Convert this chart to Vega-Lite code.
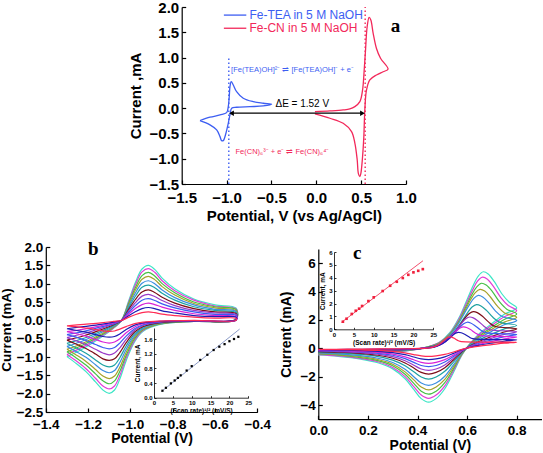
{
"$schema": "https://vega.github.io/schema/vega-lite/v6.json",
"width": 543, "height": 453, "padding": 0, "autosize": {"type": "none"},
"background": "white",
"config": {"view": {"stroke": null}, "axis": {"grid": false, "domainColor": "#000", "tickColor": "#000", "labelColor": "#000", "titleColor": "#000", "labelFont": "Liberation Sans", "titleFont": "Liberation Sans", "labelFontWeight": "bold", "titleFontWeight": "bold", "domainWidth": 1.2, "tickWidth": 1.2, "labelFlush": false, "labelOverlap": false}},
"datasets": {
"a": [
{"s":"TEA","x":-1.296,"y":-0.247},{"s":"TEA","x":-1.185,"y":-0.18},{"s":"TEA","x":-1.073,"y":-0.134},{"s":"TEA","x":-0.999,"y":-0.089},{"s":"TEA","x":-0.981,"y":0.03},{"s":"TEA","x":-0.97,"y":0.227},{"s":"TEA","x":-0.962,"y":0.425},{"s":"TEA","x":-0.948,"y":0.524},{"s":"TEA","x":-0.925,"y":0.458},{"s":"TEA","x":-0.888,"y":0.326},{"s":"TEA","x":-0.814,"y":0.196},{"s":"TEA","x":-0.703,"y":0.128},{"s":"TEA","x":-0.591,"y":0.097},{"s":"TEA","x":-0.498,"y":0.077},{"s":"TEA","x":-0.591,"y":0.043},{"s":"TEA","x":-0.739,"y":0.03},{"s":"TEA","x":-0.888,"y":0.018},{"s":"TEA","x":-0.943,"y":-0.002},{"s":"TEA","x":-0.962,"y":-0.134},{"s":"TEA","x":-0.981,"y":-0.3},{"s":"TEA","x":-1.007,"y":-0.496},{"s":"TEA","x":-1.037,"y":-0.642},{"s":"TEA","x":-1.055,"y":-0.642},{"s":"TEA","x":-1.073,"y":-0.563},{"s":"TEA","x":-1.11,"y":-0.43},{"s":"TEA","x":-1.185,"y":-0.33},{"s":"TEA","x":-1.296,"y":-0.247},
{"s":"CN","x":-0.015,"y":-0.07},{"s":"CN","x":0.152,"y":-0.055},{"s":"CN","x":0.3,"y":-0.036},{"s":"CN","x":0.374,"y":-0.016},{"s":"CN","x":0.43,"y":0.03},{"s":"CN","x":0.486,"y":0.128},{"s":"CN","x":0.516,"y":0.36},{"s":"CN","x":0.534,"y":0.755},{"s":"CN","x":0.549,"y":1.15},{"s":"CN","x":0.567,"y":1.61},{"s":"CN","x":0.589,"y":1.796},{"s":"CN","x":0.608,"y":1.743},{"s":"CN","x":0.634,"y":1.48},{"s":"CN","x":0.671,"y":1.18},{"s":"CN","x":0.716,"y":0.986},{"s":"CN","x":0.8,"y":0.77},{"s":"CN","x":0.745,"y":0.72},{"s":"CN","x":0.671,"y":0.656},{"s":"CN","x":0.597,"y":0.557},{"s":"CN","x":0.56,"y":0.36},{"s":"CN","x":0.541,"y":-0.036},{"s":"CN","x":0.53,"y":-0.563},{"s":"CN","x":0.516,"y":-0.958},{"s":"CN","x":0.497,"y":-1.29},{"s":"CN","x":0.486,"y":-1.354},{"s":"CN","x":0.47,"y":-1.3},{"s":"CN","x":0.456,"y":-1.02},{"s":"CN","x":0.43,"y":-0.69},{"s":"CN","x":0.393,"y":-0.464},{"s":"CN","x":0.3,"y":-0.3},{"s":"CN","x":0.152,"y":-0.2},{"s":"CN","x":-0.015,"y":-0.115}
],
"aDot": [{"s":"TEA","x":-0.975,"y":-1.5,"y2":1.0},{"s":"CN","x":0.545,"y":-1.5,"y2":2.0}],
"aHz": [{"s":"TEA","x":-1.03,"x2":-0.78,"y":1.84},{"s":"CN","x":-1.03,"x2":-0.78,"y":1.58},{"s":"K","x":-0.95,"x2":0.52,"y":-0.1}],
"aArr": [{"d":"L","x":-0.945,"y":-0.1},{"d":"R","x":0.515,"y":-0.1}],
"aTxt": [
{"g":"leg","s":"TEA","x":-0.745,"y":1.84,"t":"Fe-TEA in 5 M NaOH"},
{"g":"leg","s":"CN","x":-0.745,"y":1.58,"t":"Fe-CN in 5 M NaOH"},
{"g":"rx","s":"TEA","x":-0.95,"y":0.76,"t":"[Fe(TEA)OH]²⁻ ⇌ [Fe(TEA)OH]⁻ + e⁻"},
{"g":"rx","s":"CN","x":-0.9,"y":-0.86,"t":"Fe(CN)₆³⁻ + e⁻ ⇌ Fe(CN)₆⁴⁻"},
{"g":"de","s":"K","x":-0.455,"y":0.08,"t":"ΔE = 1.52 V"},
{"g":"lab","s":"K","x":0.883,"y":1.62,"t":"a"}
],
"b": [
{"k":1,"x":-1.3,"y":-0.99},{"k":1,"x":-1.22,"y":-0.76},{"k":1,"x":-1.14,"y":-0.47},{"k":1,"x":-1.08,"y":-0.22},{"k":1,"x":-1.04,"y":0.02},{"k":1,"x":-1.01,"y":0.5},{"k":1,"x":-0.975,"y":1.05},{"k":1,"x":-0.945,"y":1.4},{"k":1,"x":-0.915,"y":1.5},{"k":1,"x":-0.885,"y":1.39},{"k":1,"x":-0.85,"y":1.15},{"k":1,"x":-0.79,"y":0.86},{"k":1,"x":-0.7,"y":0.58},{"k":1,"x":-0.6,"y":0.42},{"k":1,"x":-0.5,"y":0.33},
{"k":1,"x":-0.5,"y":0.03},{"k":1,"x":-0.7,"y":-0.03},{"k":1,"x":-0.86,"y":-0.11},{"k":1,"x":-0.94,"y":-0.3},{"k":1,"x":-0.98,"y":-0.58},{"k":1,"x":-1.02,"y":-1.1},{"k":1,"x":-1.05,"y":-1.6},{"k":1,"x":-1.075,"y":-1.9},{"k":1,"x":-1.1,"y":-1.99},{"k":1,"x":-1.13,"y":-1.9},{"k":1,"x":-1.165,"y":-1.68},{"k":1,"x":-1.21,"y":-1.4},{"k":1,"x":-1.26,"y":-1.16},{"k":1,"x":-1.3,"y":-0.99},
{"k":2,"x":-1.3,"y":-0.93},{"k":2,"x":-1.22,"y":-0.71},{"k":2,"x":-1.14,"y":-0.44},{"k":2,"x":-1.08,"y":-0.21},{"k":2,"x":-1.04,"y":0.02},{"k":2,"x":-1.01,"y":0.47},{"k":2,"x":-0.975,"y":0.99},{"k":2,"x":-0.945,"y":1.32},{"k":2,"x":-0.915,"y":1.41},{"k":2,"x":-0.885,"y":1.31},{"k":2,"x":-0.85,"y":1.08},{"k":2,"x":-0.79,"y":0.81},{"k":2,"x":-0.7,"y":0.55},{"k":2,"x":-0.6,"y":0.39},{"k":2,"x":-0.5,"y":0.31},
{"k":2,"x":-0.5,"y":0.03},{"k":2,"x":-0.7,"y":-0.03},{"k":2,"x":-0.86,"y":-0.1},{"k":2,"x":-0.94,"y":-0.28},{"k":2,"x":-0.98,"y":-0.55},{"k":2,"x":-1.02,"y":-1.03},{"k":2,"x":-1.05,"y":-1.5},{"k":2,"x":-1.075,"y":-1.79},{"k":2,"x":-1.1,"y":-1.87},{"k":2,"x":-1.13,"y":-1.79},{"k":2,"x":-1.165,"y":-1.58},{"k":2,"x":-1.21,"y":-1.32},{"k":2,"x":-1.26,"y":-1.09},{"k":2,"x":-1.3,"y":-0.93},
{"k":3,"x":-1.3,"y":-0.86},{"k":3,"x":-1.22,"y":-0.66},{"k":3,"x":-1.14,"y":-0.41},{"k":3,"x":-1.08,"y":-0.19},{"k":3,"x":-1.04,"y":0.02},{"k":3,"x":-1.01,"y":0.44},{"k":3,"x":-0.975,"y":0.91},{"k":3,"x":-0.945,"y":1.22},{"k":3,"x":-0.915,"y":1.31},{"k":3,"x":-0.885,"y":1.21},{"k":3,"x":-0.85,"y":1.0},{"k":3,"x":-0.79,"y":0.75},{"k":3,"x":-0.7,"y":0.5},{"k":3,"x":-0.6,"y":0.37},{"k":3,"x":-0.5,"y":0.29},
{"k":3,"x":-0.5,"y":0.03},{"k":3,"x":-0.7,"y":-0.03},{"k":3,"x":-0.86,"y":-0.1},{"k":3,"x":-0.94,"y":-0.26},{"k":3,"x":-0.98,"y":-0.5},{"k":3,"x":-1.02,"y":-0.96},{"k":3,"x":-1.05,"y":-1.39},{"k":3,"x":-1.075,"y":-1.65},{"k":3,"x":-1.1,"y":-1.73},{"k":3,"x":-1.13,"y":-1.65},{"k":3,"x":-1.165,"y":-1.46},{"k":3,"x":-1.21,"y":-1.22},{"k":3,"x":-1.26,"y":-1.01},{"k":3,"x":-1.3,"y":-0.86},
{"k":4,"x":-1.3,"y":-0.79},{"k":4,"x":-1.22,"y":-0.61},{"k":4,"x":-1.14,"y":-0.38},{"k":4,"x":-1.08,"y":-0.18},{"k":4,"x":-1.04,"y":0.02},{"k":4,"x":-1.01,"y":0.4},{"k":4,"x":-0.975,"y":0.84},{"k":4,"x":-0.945,"y":1.12},{"k":4,"x":-0.915,"y":1.2},{"k":4,"x":-0.885,"y":1.11},{"k":4,"x":-0.85,"y":0.92},{"k":4,"x":-0.79,"y":0.69},{"k":4,"x":-0.7,"y":0.46},{"k":4,"x":-0.6,"y":0.34},{"k":4,"x":-0.5,"y":0.26},
{"k":4,"x":-0.5,"y":0.02},{"k":4,"x":-0.7,"y":-0.02},{"k":4,"x":-0.86,"y":-0.09},{"k":4,"x":-0.94,"y":-0.24},{"k":4,"x":-0.98,"y":-0.46},{"k":4,"x":-1.02,"y":-0.88},{"k":4,"x":-1.05,"y":-1.28},{"k":4,"x":-1.075,"y":-1.52},{"k":4,"x":-1.1,"y":-1.59},{"k":4,"x":-1.13,"y":-1.52},{"k":4,"x":-1.165,"y":-1.34},{"k":4,"x":-1.21,"y":-1.12},{"k":4,"x":-1.26,"y":-0.93},{"k":4,"x":-1.3,"y":-0.79},
{"k":5,"x":-1.3,"y":-0.71},{"k":5,"x":-1.22,"y":-0.55},{"k":5,"x":-1.14,"y":-0.34},{"k":5,"x":-1.08,"y":-0.16},{"k":5,"x":-1.04,"y":0.01},{"k":5,"x":-1.01,"y":0.36},{"k":5,"x":-0.975,"y":0.76},{"k":5,"x":-0.945,"y":1.01},{"k":5,"x":-0.915,"y":1.08},{"k":5,"x":-0.885,"y":1.0},{"k":5,"x":-0.85,"y":0.83},{"k":5,"x":-0.79,"y":0.62},{"k":5,"x":-0.7,"y":0.42},{"k":5,"x":-0.6,"y":0.3},{"k":5,"x":-0.5,"y":0.24},
{"k":5,"x":-0.5,"y":0.02},{"k":5,"x":-0.7,"y":-0.02},{"k":5,"x":-0.86,"y":-0.08},{"k":5,"x":-0.94,"y":-0.22},{"k":5,"x":-0.98,"y":-0.42},{"k":5,"x":-1.02,"y":-0.79},{"k":5,"x":-1.05,"y":-1.15},{"k":5,"x":-1.075,"y":-1.37},{"k":5,"x":-1.1,"y":-1.43},{"k":5,"x":-1.13,"y":-1.37},{"k":5,"x":-1.165,"y":-1.21},{"k":5,"x":-1.21,"y":-1.01},{"k":5,"x":-1.26,"y":-0.84},{"k":5,"x":-1.3,"y":-0.71},
{"k":6,"x":-1.3,"y":-0.63},{"k":6,"x":-1.22,"y":-0.49},{"k":6,"x":-1.14,"y":-0.3},{"k":6,"x":-1.08,"y":-0.14},{"k":6,"x":-1.04,"y":0.01},{"k":6,"x":-1.01,"y":0.32},{"k":6,"x":-0.975,"y":0.67},{"k":6,"x":-0.945,"y":0.9},{"k":6,"x":-0.915,"y":0.96},{"k":6,"x":-0.885,"y":0.89},{"k":6,"x":-0.85,"y":0.74},{"k":6,"x":-0.79,"y":0.55},{"k":6,"x":-0.7,"y":0.37},{"k":6,"x":-0.6,"y":0.27},{"k":6,"x":-0.5,"y":0.21},
{"k":6,"x":-0.5,"y":0.02},{"k":6,"x":-0.7,"y":-0.02},{"k":6,"x":-0.86,"y":-0.07},{"k":6,"x":-0.94,"y":-0.19},{"k":6,"x":-0.98,"y":-0.37},{"k":6,"x":-1.02,"y":-0.7},{"k":6,"x":-1.05,"y":-1.02},{"k":6,"x":-1.075,"y":-1.22},{"k":6,"x":-1.1,"y":-1.27},{"k":6,"x":-1.13,"y":-1.22},{"k":6,"x":-1.165,"y":-1.08},{"k":6,"x":-1.21,"y":-0.9},{"k":6,"x":-1.26,"y":-0.74},{"k":6,"x":-1.3,"y":-0.63},
{"k":7,"x":-1.3,"y":-0.54},{"k":7,"x":-1.22,"y":-0.42},{"k":7,"x":-1.14,"y":-0.26},{"k":7,"x":-1.08,"y":-0.12},{"k":7,"x":-1.04,"y":0.01},{"k":7,"x":-1.01,"y":0.28},{"k":7,"x":-0.975,"y":0.58},{"k":7,"x":-0.945,"y":0.77},{"k":7,"x":-0.915,"y":0.83},{"k":7,"x":-0.885,"y":0.76},{"k":7,"x":-0.85,"y":0.63},{"k":7,"x":-0.79,"y":0.47},{"k":7,"x":-0.7,"y":0.32},{"k":7,"x":-0.6,"y":0.23},{"k":7,"x":-0.5,"y":0.18},
{"k":7,"x":-0.5,"y":0.02},{"k":7,"x":-0.7,"y":-0.02},{"k":7,"x":-0.86,"y":-0.06},{"k":7,"x":-0.94,"y":-0.17},{"k":7,"x":-0.98,"y":-0.32},{"k":7,"x":-1.02,"y":-0.61},{"k":7,"x":-1.05,"y":-0.88},{"k":7,"x":-1.075,"y":-1.05},{"k":7,"x":-1.1,"y":-1.09},{"k":7,"x":-1.13,"y":-1.05},{"k":7,"x":-1.165,"y":-0.92},{"k":7,"x":-1.21,"y":-0.77},{"k":7,"x":-1.26,"y":-0.64},{"k":7,"x":-1.3,"y":-0.54},
{"k":8,"x":-1.3,"y":-0.47},{"k":8,"x":-1.22,"y":-0.36},{"k":8,"x":-1.14,"y":-0.22},{"k":8,"x":-1.08,"y":-0.1},{"k":8,"x":-1.04,"y":0.01},{"k":8,"x":-1.01,"y":0.24},{"k":8,"x":-0.975,"y":0.49},{"k":8,"x":-0.945,"y":0.66},{"k":8,"x":-0.915,"y":0.71},{"k":8,"x":-0.885,"y":0.65},{"k":8,"x":-0.85,"y":0.54},{"k":8,"x":-0.79,"y":0.4},{"k":8,"x":-0.7,"y":0.27},{"k":8,"x":-0.6,"y":0.2},{"k":8,"x":-0.5,"y":0.16},
{"k":8,"x":-0.5,"y":0.01},{"k":8,"x":-0.7,"y":-0.01},{"k":8,"x":-0.86,"y":-0.05},{"k":8,"x":-0.94,"y":-0.14},{"k":8,"x":-0.98,"y":-0.27},{"k":8,"x":-1.02,"y":-0.52},{"k":8,"x":-1.05,"y":-0.75},{"k":8,"x":-1.075,"y":-0.89},{"k":8,"x":-1.1,"y":-0.94},{"k":8,"x":-1.13,"y":-0.89},{"k":8,"x":-1.165,"y":-0.79},{"k":8,"x":-1.21,"y":-0.66},{"k":8,"x":-1.26,"y":-0.55},{"k":8,"x":-1.3,"y":-0.47},
{"k":9,"x":-1.3,"y":-0.39},{"k":9,"x":-1.22,"y":-0.3},{"k":9,"x":-1.14,"y":-0.18},{"k":9,"x":-1.08,"y":-0.09},{"k":9,"x":-1.04,"y":0.01},{"k":9,"x":-1.01,"y":0.2},{"k":9,"x":-0.975,"y":0.41},{"k":9,"x":-0.945,"y":0.55},{"k":9,"x":-0.915,"y":0.59},{"k":9,"x":-0.885,"y":0.54},{"k":9,"x":-0.85,"y":0.45},{"k":9,"x":-0.79,"y":0.34},{"k":9,"x":-0.7,"y":0.23},{"k":9,"x":-0.6,"y":0.16},{"k":9,"x":-0.5,"y":0.13},
{"k":9,"x":-0.5,"y":0.01},{"k":9,"x":-0.7,"y":-0.01},{"k":9,"x":-0.86,"y":-0.04},{"k":9,"x":-0.94,"y":-0.12},{"k":9,"x":-0.98,"y":-0.23},{"k":9,"x":-1.02,"y":-0.43},{"k":9,"x":-1.05,"y":-0.62},{"k":9,"x":-1.075,"y":-0.74},{"k":9,"x":-1.1,"y":-0.78},{"k":9,"x":-1.13,"y":-0.74},{"k":9,"x":-1.165,"y":-0.66},{"k":9,"x":-1.21,"y":-0.55},{"k":9,"x":-1.26,"y":-0.45},{"k":9,"x":-1.3,"y":-0.39},
{"k":10,"x":-1.3,"y":-0.31},{"k":10,"x":-1.22,"y":-0.24},{"k":10,"x":-1.14,"y":-0.15},{"k":10,"x":-1.08,"y":-0.07},{"k":10,"x":-1.04,"y":0.01},{"k":10,"x":-1.01,"y":0.16},{"k":10,"x":-0.975,"y":0.33},{"k":10,"x":-0.945,"y":0.43},{"k":10,"x":-0.915,"y":0.47},{"k":10,"x":-0.885,"y":0.43},{"k":10,"x":-0.85,"y":0.36},{"k":10,"x":-0.79,"y":0.27},{"k":10,"x":-0.7,"y":0.18},{"k":10,"x":-0.6,"y":0.13},{"k":10,"x":-0.5,"y":0.1},
{"k":10,"x":-0.5,"y":0.01},{"k":10,"x":-0.7,"y":-0.01},{"k":10,"x":-0.86,"y":-0.03},{"k":10,"x":-0.94,"y":-0.09},{"k":10,"x":-0.98,"y":-0.18},{"k":10,"x":-1.02,"y":-0.34},{"k":10,"x":-1.05,"y":-0.5},{"k":10,"x":-1.075,"y":-0.59},{"k":10,"x":-1.1,"y":-0.62},{"k":10,"x":-1.13,"y":-0.59},{"k":10,"x":-1.165,"y":-0.52},{"k":10,"x":-1.21,"y":-0.43},{"k":10,"x":-1.26,"y":-0.36},{"k":10,"x":-1.3,"y":-0.31},
{"k":11,"x":-1.3,"y":-0.23},{"k":11,"x":-1.22,"y":-0.17},{"k":11,"x":-1.14,"y":-0.11},{"k":11,"x":-1.08,"y":-0.05},{"k":11,"x":-1.04,"y":0},{"k":11,"x":-1.01,"y":0.12},{"k":11,"x":-0.975,"y":0.24},{"k":11,"x":-0.945,"y":0.32},{"k":11,"x":-0.915,"y":0.35},{"k":11,"x":-0.885,"y":0.32},{"k":11,"x":-0.85,"y":0.26},{"k":11,"x":-0.79,"y":0.2},{"k":11,"x":-0.7,"y":0.13},{"k":11,"x":-0.6,"y":0.1},{"k":11,"x":-0.5,"y":0.08},
{"k":11,"x":-0.5,"y":0.01},{"k":11,"x":-0.7,"y":-0.01},{"k":11,"x":-0.86,"y":-0.03},{"k":11,"x":-0.94,"y":-0.07},{"k":11,"x":-0.98,"y":-0.13},{"k":11,"x":-1.02,"y":-0.25},{"k":11,"x":-1.05,"y":-0.37},{"k":11,"x":-1.075,"y":-0.44},{"k":11,"x":-1.1,"y":-0.46},{"k":11,"x":-1.13,"y":-0.44},{"k":11,"x":-1.165,"y":-0.39},{"k":11,"x":-1.21,"y":-0.32},{"k":11,"x":-1.26,"y":-0.27},{"k":11,"x":-1.3,"y":-0.23},
{"k":12,"x":-1.3,"y":-0.15},{"k":12,"x":-1.22,"y":-0.11},{"k":12,"x":-1.14,"y":-0.07},{"k":12,"x":-1.08,"y":-0.03},{"k":12,"x":-1.04,"y":0},{"k":12,"x":-1.01,"y":0.08},{"k":12,"x":-0.975,"y":0.16},{"k":12,"x":-0.945,"y":0.21},{"k":12,"x":-0.915,"y":0.23},{"k":12,"x":-0.885,"y":0.21},{"k":12,"x":-0.85,"y":0.17},{"k":12,"x":-0.79,"y":0.13},{"k":12,"x":-0.7,"y":0.09},{"k":12,"x":-0.6,"y":0.06},{"k":12,"x":-0.5,"y":0.05},
{"k":12,"x":-0.5,"y":0},{"k":12,"x":-0.7,"y":0},{"k":12,"x":-0.86,"y":-0.02},{"k":12,"x":-0.94,"y":-0.05},{"k":12,"x":-0.98,"y":-0.09},{"k":12,"x":-1.02,"y":-0.17},{"k":12,"x":-1.05,"y":-0.24},{"k":12,"x":-1.075,"y":-0.29},{"k":12,"x":-1.1,"y":-0.3},{"k":12,"x":-1.13,"y":-0.29},{"k":12,"x":-1.165,"y":-0.25},{"k":12,"x":-1.21,"y":-0.21},{"k":12,"x":-1.26,"y":-0.17},{"k":12,"x":-1.3,"y":-0.15}
],
"bTxt": [{"x":-1.175,"y":1.95,"t":"b"}],
"bi": [{"x":2.24,"y":0.19},{"x":3.16,"y":0.27},{"x":4.47,"y":0.39},{"x":5.48,"y":0.47},{"x":6.32,"y":0.54},{"x":7.07,"y":0.61},{"x":8.66,"y":0.74},{"x":10,"y":0.86},{"x":12.25,"y":1.03},{"x":14.14,"y":1.17},{"x":15.81,"y":1.3},{"x":17.32,"y":1.39},{"x":18.71,"y":1.46},{"x":20,"y":1.54},{"x":21.21,"y":1.6},{"x":22.36,"y":1.66}],
"biL": [{"x":2,"y":0.17,"x2":22.7,"y2":1.87}],
"c": [
{"k":1,"x":0,"y":-0.47},{"k":1,"x":0.12,"y":-0.37},{"k":1,"x":0.25,"y":-0.29},{"k":1,"x":0.36,"y":-0.17},{"k":1,"x":0.44,"y":0.1},{"k":1,"x":0.49,"y":0.45},{"k":1,"x":0.53,"y":1.1},{"k":1,"x":0.57,"y":2.25},{"k":1,"x":0.6,"y":3.45},{"k":1,"x":0.625,"y":4.45},{"k":1,"x":0.645,"y":5.1},{"k":1,"x":0.665,"y":5.4},{"k":1,"x":0.685,"y":5.25},{"k":1,"x":0.71,"y":4.7},{"k":1,"x":0.74,"y":3.85},{"k":1,"x":0.77,"y":3.25},{"k":1,"x":0.8,"y":2.85},{"k":1,"x":0.75,"y":2.4},{"k":1,"x":0.7,"y":1.75},{"k":1,"x":0.65,"y":1.05},{"k":1,"x":0.61,"y":0.3},{"k":1,"x":0.58,"y":-0.45},{"k":1,"x":0.545,"y":-1.7},{"k":1,"x":0.51,"y":-2.85},{"k":1,"x":0.475,"y":-3.55},{"k":1,"x":0.445,"y":-3.8},{"k":1,"x":0.415,"y":-3.55},{"k":1,"x":0.385,"y":-2.9},{"k":1,"x":0.35,"y":-2.15},{"k":1,"x":0.3,"y":-1.45},{"k":1,"x":0.24,"y":-1.02},{"k":1,"x":0.17,"y":-0.76},{"k":1,"x":0.08,"y":-0.57},{"k":1,"x":0,"y":-0.47},
{"k":2,"x":0,"y":-0.44},{"k":2,"x":0.12,"y":-0.34},{"k":2,"x":0.25,"y":-0.27},{"k":2,"x":0.36,"y":-0.16},{"k":2,"x":0.44,"y":0.09},{"k":2,"x":0.489,"y":0.42},{"k":2,"x":0.529,"y":1.02},{"k":2,"x":0.568,"y":2.09},{"k":2,"x":0.598,"y":3.21},{"k":2,"x":0.623,"y":4.14},{"k":2,"x":0.642,"y":4.74},{"k":2,"x":0.662,"y":5.02},{"k":2,"x":0.682,"y":4.88},{"k":2,"x":0.706,"y":4.37},{"k":2,"x":0.736,"y":3.58},{"k":2,"x":0.766,"y":3.02},{"k":2,"x":0.8,"y":2.65},{"k":2,"x":0.75,"y":2.23},{"k":2,"x":0.7,"y":1.63},{"k":2,"x":0.65,"y":0.98},{"k":2,"x":0.61,"y":0.28},{"k":2,"x":0.58,"y":-0.42},{"k":2,"x":0.545,"y":-1.58},{"k":2,"x":0.51,"y":-2.65},{"k":2,"x":0.475,"y":-3.3},{"k":2,"x":0.445,"y":-3.53},{"k":2,"x":0.415,"y":-3.3},{"k":2,"x":0.385,"y":-2.7},{"k":2,"x":0.35,"y":-2.0},{"k":2,"x":0.3,"y":-1.35},{"k":2,"x":0.24,"y":-0.95},{"k":2,"x":0.17,"y":-0.71},{"k":2,"x":0.08,"y":-0.53},{"k":2,"x":0,"y":-0.44},
{"k":3,"x":0,"y":-0.4},{"k":3,"x":0.12,"y":-0.31},{"k":3,"x":0.25,"y":-0.25},{"k":3,"x":0.36,"y":-0.14},{"k":3,"x":0.44,"y":0.09},{"k":3,"x":0.488,"y":0.38},{"k":3,"x":0.527,"y":0.94},{"k":3,"x":0.566,"y":1.91},{"k":3,"x":0.595,"y":2.93},{"k":3,"x":0.619,"y":3.78},{"k":3,"x":0.639,"y":4.34},{"k":3,"x":0.658,"y":4.59},{"k":3,"x":0.677,"y":4.46},{"k":3,"x":0.702,"y":4.0},{"k":3,"x":0.731,"y":3.27},{"k":3,"x":0.76,"y":2.76},{"k":3,"x":0.8,"y":2.42},{"k":3,"x":0.75,"y":2.04},{"k":3,"x":0.7,"y":1.49},{"k":3,"x":0.65,"y":0.89},{"k":3,"x":0.61,"y":0.26},{"k":3,"x":0.58,"y":-0.38},{"k":3,"x":0.545,"y":-1.45},{"k":3,"x":0.51,"y":-2.42},{"k":3,"x":0.475,"y":-3.02},{"k":3,"x":0.445,"y":-3.23},{"k":3,"x":0.415,"y":-3.02},{"k":3,"x":0.385,"y":-2.47},{"k":3,"x":0.35,"y":-1.83},{"k":3,"x":0.3,"y":-1.23},{"k":3,"x":0.24,"y":-0.87},{"k":3,"x":0.17,"y":-0.65},{"k":3,"x":0.08,"y":-0.48},{"k":3,"x":0,"y":-0.4},
{"k":4,"x":0,"y":-0.36},{"k":4,"x":0.12,"y":-0.28},{"k":4,"x":0.25,"y":-0.22},{"k":4,"x":0.36,"y":-0.13},{"k":4,"x":0.44,"y":0.08},{"k":4,"x":0.487,"y":0.35},{"k":4,"x":0.525,"y":0.85},{"k":4,"x":0.563,"y":1.73},{"k":4,"x":0.591,"y":2.66},{"k":4,"x":0.614,"y":3.43},{"k":4,"x":0.633,"y":3.93},{"k":4,"x":0.652,"y":4.16},{"k":4,"x":0.671,"y":4.04},{"k":4,"x":0.694,"y":3.62},{"k":4,"x":0.723,"y":2.96},{"k":4,"x":0.751,"y":2.5},{"k":4,"x":0.8,"y":2.19},{"k":4,"x":0.75,"y":1.85},{"k":4,"x":0.7,"y":1.35},{"k":4,"x":0.65,"y":0.81},{"k":4,"x":0.61,"y":0.23},{"k":4,"x":0.58,"y":-0.35},{"k":4,"x":0.545,"y":-1.31},{"k":4,"x":0.51,"y":-2.19},{"k":4,"x":0.475,"y":-2.73},{"k":4,"x":0.445,"y":-2.93},{"k":4,"x":0.415,"y":-2.73},{"k":4,"x":0.385,"y":-2.23},{"k":4,"x":0.35,"y":-1.66},{"k":4,"x":0.3,"y":-1.12},{"k":4,"x":0.24,"y":-0.79},{"k":4,"x":0.17,"y":-0.59},{"k":4,"x":0.08,"y":-0.44},{"k":4,"x":0,"y":-0.36},
{"k":5,"x":0,"y":-0.32},{"k":5,"x":0.12,"y":-0.26},{"k":5,"x":0.25,"y":-0.2},{"k":5,"x":0.36,"y":-0.12},{"k":5,"x":0.44,"y":0.07},{"k":5,"x":0.486,"y":0.31},{"k":5,"x":0.522,"y":0.76},{"k":5,"x":0.558,"y":1.55},{"k":5,"x":0.586,"y":2.38},{"k":5,"x":0.609,"y":3.07},{"k":5,"x":0.627,"y":3.52},{"k":5,"x":0.645,"y":3.73},{"k":5,"x":0.663,"y":3.62},{"k":5,"x":0.686,"y":3.24},{"k":5,"x":0.713,"y":2.66},{"k":5,"x":0.741,"y":2.24},{"k":5,"x":0.8,"y":1.97},{"k":5,"x":0.75,"y":1.66},{"k":5,"x":0.7,"y":1.21},{"k":5,"x":0.65,"y":0.72},{"k":5,"x":0.61,"y":0.21},{"k":5,"x":0.58,"y":-0.31},{"k":5,"x":0.545,"y":-1.17},{"k":5,"x":0.51,"y":-1.97},{"k":5,"x":0.475,"y":-2.45},{"k":5,"x":0.445,"y":-2.62},{"k":5,"x":0.415,"y":-2.45},{"k":5,"x":0.385,"y":-2.0},{"k":5,"x":0.35,"y":-1.48},{"k":5,"x":0.3,"y":-1.0},{"k":5,"x":0.24,"y":-0.7},{"k":5,"x":0.17,"y":-0.52},{"k":5,"x":0.08,"y":-0.39},{"k":5,"x":0,"y":-0.32},
{"k":6,"x":0,"y":-0.27},{"k":6,"x":0.12,"y":-0.21},{"k":6,"x":0.25,"y":-0.17},{"k":6,"x":0.36,"y":-0.1},{"k":6,"x":0.44,"y":0.06},{"k":6,"x":0.484,"y":0.26},{"k":6,"x":0.519,"y":0.63},{"k":6,"x":0.554,"y":1.28},{"k":6,"x":0.581,"y":1.97},{"k":6,"x":0.603,"y":2.54},{"k":6,"x":0.62,"y":2.91},{"k":6,"x":0.638,"y":3.08},{"k":6,"x":0.656,"y":2.99},{"k":6,"x":0.678,"y":2.68},{"k":6,"x":0.704,"y":2.19},{"k":6,"x":0.73,"y":1.85},{"k":6,"x":0.8,"y":1.62},{"k":6,"x":0.75,"y":1.37},{"k":6,"x":0.7,"y":1.0},{"k":6,"x":0.65,"y":0.6},{"k":6,"x":0.61,"y":0.17},{"k":6,"x":0.58,"y":-0.26},{"k":6,"x":0.545,"y":-0.97},{"k":6,"x":0.51,"y":-1.62},{"k":6,"x":0.475,"y":-2.02},{"k":6,"x":0.445,"y":-2.17},{"k":6,"x":0.415,"y":-2.02},{"k":6,"x":0.385,"y":-1.65},{"k":6,"x":0.35,"y":-1.23},{"k":6,"x":0.3,"y":-0.83},{"k":6,"x":0.24,"y":-0.58},{"k":6,"x":0.17,"y":-0.43},{"k":6,"x":0.08,"y":-0.32},{"k":6,"x":0,"y":-0.27},
{"k":7,"x":0,"y":-0.23},{"k":7,"x":0.12,"y":-0.18},{"k":7,"x":0.25,"y":-0.14},{"k":7,"x":0.36,"y":-0.08},{"k":7,"x":0.44,"y":0.05},{"k":7,"x":0.481,"y":0.22},{"k":7,"x":0.514,"y":0.53},{"k":7,"x":0.547,"y":1.08},{"k":7,"x":0.572,"y":1.66},{"k":7,"x":0.592,"y":2.14},{"k":7,"x":0.609,"y":2.45},{"k":7,"x":0.625,"y":2.59},{"k":7,"x":0.641,"y":2.52},{"k":7,"x":0.662,"y":2.26},{"k":7,"x":0.687,"y":1.85},{"k":7,"x":0.711,"y":1.56},{"k":7,"x":0.8,"y":1.37},{"k":7,"x":0.75,"y":1.15},{"k":7,"x":0.7,"y":0.84},{"k":7,"x":0.65,"y":0.5},{"k":7,"x":0.61,"y":0.14},{"k":7,"x":0.58,"y":-0.22},{"k":7,"x":0.545,"y":-0.82},{"k":7,"x":0.51,"y":-1.37},{"k":7,"x":0.475,"y":-1.7},{"k":7,"x":0.445,"y":-1.82},{"k":7,"x":0.415,"y":-1.7},{"k":7,"x":0.385,"y":-1.39},{"k":7,"x":0.35,"y":-1.03},{"k":7,"x":0.3,"y":-0.7},{"k":7,"x":0.24,"y":-0.49},{"k":7,"x":0.17,"y":-0.36},{"k":7,"x":0.08,"y":-0.27},{"k":7,"x":0,"y":-0.23},
{"k":8,"x":0,"y":-0.19},{"k":8,"x":0.12,"y":-0.15},{"k":8,"x":0.25,"y":-0.12},{"k":8,"x":0.36,"y":-0.07},{"k":8,"x":0.44,"y":0.04},{"k":8,"x":0.478,"y":0.18},{"k":8,"x":0.508,"y":0.45},{"k":8,"x":0.538,"y":0.92},{"k":8,"x":0.561,"y":1.41},{"k":8,"x":0.58,"y":1.82},{"k":8,"x":0.595,"y":2.09},{"k":8,"x":0.61,"y":2.21},{"k":8,"x":0.625,"y":2.15},{"k":8,"x":0.644,"y":1.93},{"k":8,"x":0.667,"y":1.58},{"k":8,"x":0.689,"y":1.33},{"k":8,"x":0.8,"y":1.17},{"k":8,"x":0.75,"y":0.98},{"k":8,"x":0.7,"y":0.72},{"k":8,"x":0.65,"y":0.43},{"k":8,"x":0.61,"y":0.12},{"k":8,"x":0.58,"y":-0.18},{"k":8,"x":0.545,"y":-0.7},{"k":8,"x":0.51,"y":-1.17},{"k":8,"x":0.475,"y":-1.46},{"k":8,"x":0.445,"y":-1.56},{"k":8,"x":0.415,"y":-1.46},{"k":8,"x":0.385,"y":-1.19},{"k":8,"x":0.35,"y":-0.88},{"k":8,"x":0.3,"y":-0.59},{"k":8,"x":0.24,"y":-0.42},{"k":8,"x":0.17,"y":-0.31},{"k":8,"x":0.08,"y":-0.23},{"k":8,"x":0,"y":-0.19},
{"k":9,"x":0,"y":-0.16},{"k":9,"x":0.12,"y":-0.13},{"k":9,"x":0.25,"y":-0.1},{"k":9,"x":0.36,"y":-0.06},{"k":9,"x":0.44,"y":0.03},{"k":9,"x":0.476,"y":0.15},{"k":9,"x":0.504,"y":0.37},{"k":9,"x":0.532,"y":0.77},{"k":9,"x":0.554,"y":1.17},{"k":9,"x":0.572,"y":1.51},{"k":9,"x":0.586,"y":1.73},{"k":9,"x":0.6,"y":1.84},{"k":9,"x":0.614,"y":1.79},{"k":9,"x":0.632,"y":1.6},{"k":9,"x":0.653,"y":1.31},{"k":9,"x":0.675,"y":1.11},{"k":9,"x":0.8,"y":0.97},{"k":9,"x":0.75,"y":0.82},{"k":9,"x":0.7,"y":0.6},{"k":9,"x":0.65,"y":0.36},{"k":9,"x":0.61,"y":0.1},{"k":9,"x":0.58,"y":-0.15},{"k":9,"x":0.545,"y":-0.58},{"k":9,"x":0.51,"y":-0.97},{"k":9,"x":0.475,"y":-1.21},{"k":9,"x":0.445,"y":-1.29},{"k":9,"x":0.415,"y":-1.21},{"k":9,"x":0.385,"y":-0.99},{"k":9,"x":0.35,"y":-0.73},{"k":9,"x":0.3,"y":-0.49},{"k":9,"x":0.24,"y":-0.35},{"k":9,"x":0.17,"y":-0.26},{"k":9,"x":0.08,"y":-0.19},{"k":9,"x":0,"y":-0.16},
{"k":10,"x":0,"y":-0.13},{"k":10,"x":0.12,"y":-0.1},{"k":10,"x":0.25,"y":-0.08},{"k":10,"x":0.36,"y":-0.05},{"k":10,"x":0.44,"y":0.03},{"k":10,"x":0.472,"y":0.13},{"k":10,"x":0.498,"y":0.31},{"k":10,"x":0.524,"y":0.63},{"k":10,"x":0.543,"y":0.97},{"k":10,"x":0.559,"y":1.25},{"k":10,"x":0.572,"y":1.43},{"k":10,"x":0.585,"y":1.51},{"k":10,"x":0.598,"y":1.47},{"k":10,"x":0.614,"y":1.32},{"k":10,"x":0.633,"y":1.08},{"k":10,"x":0.653,"y":0.91},{"k":10,"x":0.8,"y":0.8},{"k":10,"x":0.75,"y":0.67},{"k":10,"x":0.7,"y":0.49},{"k":10,"x":0.65,"y":0.29},{"k":10,"x":0.61,"y":0.08},{"k":10,"x":0.58,"y":-0.13},{"k":10,"x":0.545,"y":-0.48},{"k":10,"x":0.51,"y":-0.8},{"k":10,"x":0.475,"y":-0.99},{"k":10,"x":0.445,"y":-1.06},{"k":10,"x":0.415,"y":-0.99},{"k":10,"x":0.385,"y":-0.81},{"k":10,"x":0.35,"y":-0.6},{"k":10,"x":0.3,"y":-0.41},{"k":10,"x":0.24,"y":-0.29},{"k":10,"x":0.17,"y":-0.21},{"k":10,"x":0.08,"y":-0.16},{"k":10,"x":0,"y":-0.13},
{"k":11,"x":0,"y":-0.1},{"k":11,"x":0.12,"y":-0.08},{"k":11,"x":0.25,"y":-0.06},{"k":11,"x":0.36,"y":-0.04},{"k":11,"x":0.44,"y":0.02},{"k":11,"x":0.468,"y":0.09},{"k":11,"x":0.49,"y":0.23},{"k":11,"x":0.512,"y":0.47},{"k":11,"x":0.529,"y":0.72},{"k":11,"x":0.543,"y":0.93},{"k":11,"x":0.554,"y":1.07},{"k":11,"x":0.565,"y":1.13},{"k":11,"x":0.576,"y":1.1},{"k":11,"x":0.59,"y":0.99},{"k":11,"x":0.607,"y":0.81},{"k":11,"x":0.623,"y":0.68},{"k":11,"x":0.8,"y":0.6},{"k":11,"x":0.75,"y":0.5},{"k":11,"x":0.7,"y":0.37},{"k":11,"x":0.65,"y":0.22},{"k":11,"x":0.61,"y":0.06},{"k":11,"x":0.58,"y":-0.09},{"k":11,"x":0.545,"y":-0.36},{"k":11,"x":0.51,"y":-0.6},{"k":11,"x":0.475,"y":-0.75},{"k":11,"x":0.445,"y":-0.8},{"k":11,"x":0.415,"y":-0.75},{"k":11,"x":0.385,"y":-0.61},{"k":11,"x":0.35,"y":-0.45},{"k":11,"x":0.3,"y":-0.3},{"k":11,"x":0.24,"y":-0.21},{"k":11,"x":0.17,"y":-0.16},{"k":11,"x":0.08,"y":-0.12},{"k":11,"x":0,"y":-0.1},
{"k":12,"x":0,"y":-0.07},{"k":12,"x":0.12,"y":-0.06},{"k":12,"x":0.25,"y":-0.04},{"k":12,"x":0.36,"y":-0.03},{"k":12,"x":0.44,"y":0.02},{"k":12,"x":0.46,"y":0.07},{"k":12,"x":0.476,"y":0.17},{"k":12,"x":0.492,"y":0.34},{"k":12,"x":0.504,"y":0.52},{"k":12,"x":0.514,"y":0.67},{"k":12,"x":0.522,"y":0.77},{"k":12,"x":0.53,"y":0.81},{"k":12,"x":0.538,"y":0.79},{"k":12,"x":0.548,"y":0.71},{"k":12,"x":0.56,"y":0.58},{"k":12,"x":0.572,"y":0.49},{"k":12,"x":0.8,"y":0.43},{"k":12,"x":0.75,"y":0.36},{"k":12,"x":0.7,"y":0.26},{"k":12,"x":0.65,"y":0.16},{"k":12,"x":0.61,"y":0.05},{"k":12,"x":0.58,"y":-0.07},{"k":12,"x":0.545,"y":-0.26},{"k":12,"x":0.51,"y":-0.43},{"k":12,"x":0.475,"y":-0.53},{"k":12,"x":0.445,"y":-0.57},{"k":12,"x":0.415,"y":-0.53},{"k":12,"x":0.385,"y":-0.44},{"k":12,"x":0.35,"y":-0.32},{"k":12,"x":0.3,"y":-0.22},{"k":12,"x":0.24,"y":-0.15},{"k":12,"x":0.17,"y":-0.11},{"k":12,"x":0.08,"y":-0.09},{"k":12,"x":0,"y":-0.07}
],
"cTxt": [{"x":0.157,"y":6.7,"t":"c"}],
"ci": [{"x":2.24,"y":0.59},{"x":3.16,"y":0.82},{"x":4.47,"y":1.19},{"x":5.48,"y":1.44},{"x":6.32,"y":1.6},{"x":7.07,"y":1.81},{"x":8.66,"y":2.19},{"x":10,"y":2.48},{"x":12.25,"y":2.97},{"x":14.14,"y":3.38},{"x":15.81,"y":3.69},{"x":17.32,"y":3.98},{"x":18.71,"y":4.23},{"x":20,"y":4.42},{"x":21.21,"y":4.54},{"x":22.36,"y":4.67}],
"ciL": [{"x":1.9,"y":0.54,"x2":22.4,"y2":5.32}]
},
"resolve": {"scale": {"x": "independent", "y": "independent", "color": "independent"}, "axis": {"x": "independent", "y": "independent"}},
"layer": [
{
 "encoding": {
  "x": {"field": "x", "type": "quantitative", "scale": {"domain": [-1.5, 1], "range": [181.7, 406], "nice": false, "zero": false}, "axis": {"orient": "bottom", "offset": -269, "values": [-1.5, -1, -0.5, 0, 0.5, 1], "format": ".1f", "title": "Potential, V (vs Ag/AgCl)", "labelFontSize": 15, "titleFontSize": 15, "tickSize": -4, "labelPadding": 10, "titlePadding": 3}},
  "y": {"field": "y", "type": "quantitative", "scale": {"domain": [-1.5, 2], "range": [184, 7], "nice": false, "zero": false}, "axis": {"orient": "left", "offset": -181.7, "values": [-1.5, -1, -0.5, 0, 0.5, 1, 1.5, 2], "format": ".1f", "title": "Current ,mA", "labelFontSize": 15, "titleFontSize": 15, "tickSize": -4, "labelPadding": 7, "titlePadding": 6}},
  "color": {"field": "s", "type": "nominal", "scale": {"domain": ["TEA", "CN", "K"], "range": ["#3d5ef2", "#f2285a", "#000000"]}, "legend": null}
 },
 "layer": [
  {"data": {"name": "a"}, "mark": {"type": "line", "strokeWidth": 1.3, "interpolate": "catmull-rom"}, "encoding": {"order": {"value": null}}},
  {"data": {"name": "aDot"}, "mark": {"type": "rule", "strokeDash": [1.5, 2.5], "strokeWidth": 1.4}, "encoding": {"y2": {"field": "y2"}}},
  {"data": {"name": "aHz"}, "mark": {"type": "rule", "strokeWidth": 1.3}, "encoding": {"x2": {"field": "x2"}}},
  {"data": {"name": "aArr"}, "mark": {"type": "point", "filled": true, "size": 30, "opacity": 1}, "encoding": {"color": {"value": "black"}, "shape": {"field": "d", "type": "nominal", "scale": {"domain": ["L", "R"], "range": ["triangle-left", "triangle-right"]}, "legend": null}}},
  {"data": {"name": "aTxt"}, "transform": [{"filter": "datum.g == 'leg'"}], "mark": {"type": "text", "align": "left", "baseline": "middle", "fontSize": 12, "font": "Liberation Sans"}, "encoding": {"text": {"field": "t"}}},
  {"data": {"name": "aTxt"}, "transform": [{"filter": "datum.g == 'rx'"}], "mark": {"type": "text", "align": "left", "baseline": "middle", "fontSize": 7.5, "font": "Liberation Sans"}, "encoding": {"text": {"field": "t"}}},
  {"data": {"name": "aTxt"}, "transform": [{"filter": "datum.g == 'de'"}], "mark": {"type": "text", "align": "left", "baseline": "middle", "fontSize": 10, "font": "Liberation Sans"}, "encoding": {"text": {"field": "t"}}},
  {"data": {"name": "aTxt"}, "transform": [{"filter": "datum.g == 'lab'"}], "mark": {"type": "text", "align": "center", "baseline": "middle", "fontSize": 19, "font": "Liberation Serif", "fontWeight": "bold"}, "encoding": {"text": {"field": "t"}}}
 ]
},
{
 "encoding": {
  "x": {"field": "x", "type": "quantitative", "scale": {"domain": [-1.4, -0.4], "range": [45.8, 257.3], "nice": false, "zero": false}, "axis": {"orient": "bottom", "offset": -41, "values": [-1.4, -1.2, -1, -0.8, -0.6, -0.4], "format": ".1f", "title": "Potential (V)", "labelFontSize": 13.5, "titleFontSize": 14, "tickSize": -4, "labelPadding": 9, "titlePadding": 1}},
  "y": {"field": "y", "type": "quantitative", "scale": {"domain": [-2.5, 2], "range": [412, 247], "nice": false, "zero": false}, "axis": {"orient": "left", "offset": -45.8, "values": [-2.5, -2, -1.5, -1, -0.5, 0, 0.5, 1, 1.5, 2], "format": ".1f", "title": "Current (mA)", "labelFontSize": 13.5, "titleFontSize": 13.5, "tickSize": -4, "labelPadding": 7, "titlePadding": 3}}
 },
 "layer": [
  {"data": {"name": "b"}, "mark": {"type": "line", "strokeWidth": 1.2, "interpolate": "catmull-rom"}, "encoding": {"color": {"field": "k", "type": "nominal", "scale": {"domain": [1,2,3,4,5,6,7,8,9,10,11,12], "range": ["#3ee6c6","#e03ed8","#46c046","#a6a02a","#3c8ee0","#1ea2a2","#7c0e18","#9a3ac8","#3a5cf0","#d822d8","#1c1cb4","#ff2a54"]}, "legend": null}, "order": {"value": null}}},
  {"data": {"name": "bTxt"}, "mark": {"type": "text", "align": "center", "baseline": "middle", "fontSize": 19, "font": "Liberation Serif", "fontWeight": "bold", "color": "black"}, "encoding": {"text": {"field": "t"}}}
 ]
},
{
 "encoding": {
  "x": {"field": "x", "type": "quantitative", "scale": {"domain": [0, 25], "range": [154, 248.3], "nice": false, "zero": false}, "axis": {"orient": "bottom", "offset": -55.3, "values": [0, 5, 10, 15, 20, 25], "title": "(Scan rate)¹/² (mV/S)", "labelFontSize": 6, "titleFontSize": 6.5, "tickSize": -2, "labelPadding": 4, "titlePadding": 2, "domainWidth": 0.8, "tickWidth": 0.8}},
  "y": {"field": "y", "type": "quantitative", "scale": {"domain": [0, 1.9], "range": [397.7, 328], "nice": false, "zero": false}, "axis": {"orient": "left", "offset": -154, "values": [0, 0.4, 0.8, 1.2, 1.6], "format": ".1f", "title": "Current, mA", "labelFontSize": 6, "titleFontSize": 6.5, "tickSize": -2, "labelPadding": 4, "titlePadding": 3, "domainWidth": 0.8, "tickWidth": 0.8}}
 },
 "layer": [
  {"data": {"name": "biL"}, "mark": {"type": "rule", "color": "#8c9cc8", "strokeWidth": 1}, "encoding": {"x2": {"field": "x2"}, "y2": {"field": "y2"}}},
  {"data": {"name": "bi"}, "mark": {"type": "square", "color": "black", "size": 5, "opacity": 1}}
 ]
},
{
 "encoding": {
  "x": {"field": "x", "type": "quantitative", "scale": {"domain": [0, 0.9], "range": [318.3, 541.5], "nice": false, "zero": false}, "axis": {"orient": "bottom", "offset": -33.8, "values": [0, 0.2, 0.4, 0.6, 0.8], "format": ".1f", "title": "Potential (V)", "labelFontSize": 13.5, "titleFontSize": 14, "tickSize": -4, "labelPadding": 8, "titlePadding": 2}},
  "y": {"field": "y", "type": "quantitative", "scale": {"domain": [-5, 7], "range": [419.2, 249.1], "nice": false, "zero": false}, "axis": {"orient": "left", "offset": -318.3, "values": [-4, -2, 0, 2, 4, 6], "format": "d", "title": "Current (mA)", "labelFontSize": 13.5, "titleFontSize": 14, "tickSize": -4, "labelPadding": 7, "titlePadding": 6}}
 },
 "layer": [
  {"data": {"name": "c"}, "mark": {"type": "line", "strokeWidth": 1.2, "interpolate": "catmull-rom"}, "encoding": {"color": {"field": "k", "type": "nominal", "scale": {"domain": [1,2,3,4,5,6,7,8,9,10,11,12], "range": ["#3ee6c6","#e03ed8","#46c046","#a6a02a","#3c8ee0","#1ea2a2","#7c0e18","#9a3ac8","#3a5cf0","#d822d8","#1c1cb4","#ff2a54"]}, "legend": null}, "order": {"value": null}}},
  {"data": {"name": "cTxt"}, "mark": {"type": "text", "align": "center", "baseline": "middle", "fontSize": 19, "font": "Liberation Serif", "fontWeight": "bold", "color": "black"}, "encoding": {"text": {"field": "t"}}}
 ]
},
{
 "encoding": {
  "x": {"field": "x", "type": "quantitative", "scale": {"domain": [0, 25], "range": [334, 433.3], "nice": false, "zero": false}, "axis": {"orient": "bottom", "offset": -123.7, "values": [0, 5, 10, 15, 20, 25], "title": "(Scan rate)¹/² (mV/S)", "labelFontSize": 6, "titleFontSize": 6.5, "tickSize": -2, "labelPadding": 4, "titlePadding": 2, "domainWidth": 0.8, "tickWidth": 0.8}},
  "y": {"field": "y", "type": "quantitative", "scale": {"domain": [0, 6], "range": [329.3, 252], "nice": false, "zero": false}, "axis": {"orient": "left", "offset": -334, "values": [0, 1, 2, 3, 4, 5, 6], "format": "d", "title": "Current, mA", "labelFontSize": 6, "titleFontSize": 6.5, "tickSize": -2, "labelPadding": 4, "titlePadding": 3, "domainWidth": 0.8, "tickWidth": 0.8}}
 },
 "layer": [
  {"data": {"name": "ciL"}, "mark": {"type": "rule", "color": "#f2506e", "strokeWidth": 1}, "encoding": {"x2": {"field": "x2"}, "y2": {"field": "y2"}}},
  {"data": {"name": "ci"}, "mark": {"type": "square", "color": "#f0203c", "size": 7, "opacity": 1}}
 ]
}
]
}
